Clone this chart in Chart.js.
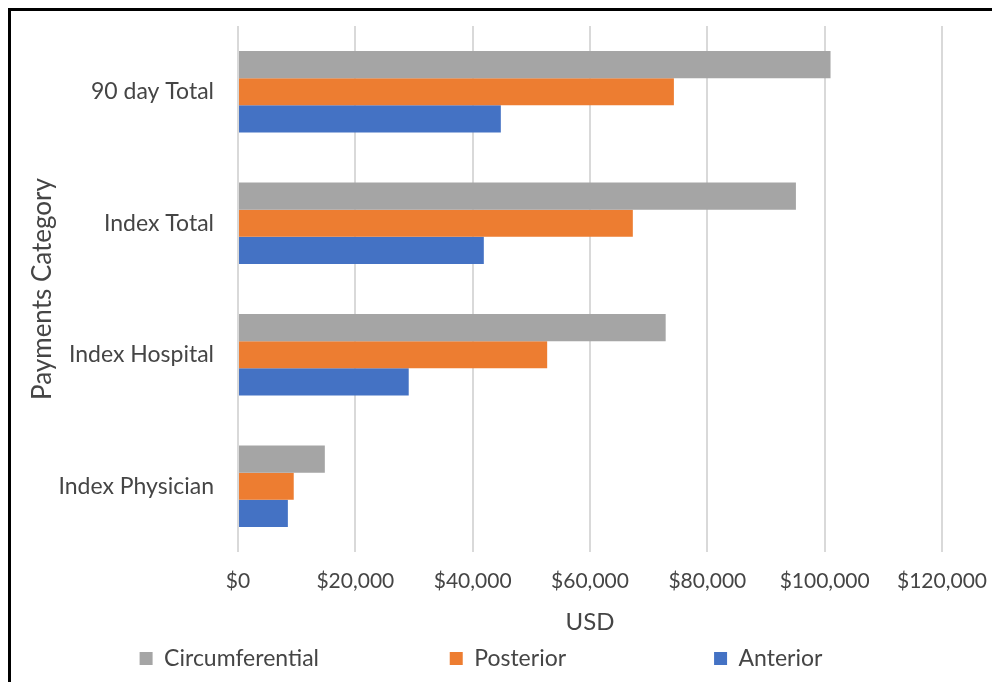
<!DOCTYPE html>
<html>
<head>
<meta charset="utf-8">
<title>Payments Category</title>
<script src="https://cdn.jsdelivr.net/npm/chart.js@4.4.0/dist/chart.umd.min.js"></script>
<style>
    html, body { margin: 0; padding: 0; background: #fff; overflow: hidden; }
    #wrap { position: relative; width: 992px; height: 682px; }
    #frame {
        position: absolute; left: 8px; top: 8px; width: 1000px; height: 700px;
        border-top: 3px solid #000; border-left: 3px solid #000;
    }
    canvas { position: absolute; left: 0; top: 0; }
</style>
</head>
<body>
<div id="wrap">
    <div id="frame"></div>
    <canvas id="paymentsChart" width="992" height="682"></canvas>
</div>
<script>
// Categories (top to bottom) and series values in USD
const categories = ['90 day Total', 'Index Total', 'Index Hospital', 'Index Physician'];
const circumferential = [101000, 95100, 72900, 14800];
const posterior = [74300, 67300, 52700, 9500];
const anterior = [44800, 41900, 29100, 8500];
const xTicks = [0, 20000, 40000, 60000, 80000, 100000, 120000];

(function() {
    'use strict';

    const textColor = '#454545';
    const fontFamily = 'Lato, "Open Sans", sans-serif';
    // em spaces after each legend entry widen the gaps like the Excel legend
    const legendGap = [7, 8, 0];

    const ctx = document.getElementById('paymentsChart');

    new Chart(ctx, {
        type: 'bar',
        data: {
            labels: categories,
            datasets: [
                { label: 'Circumferential', data: circumferential, backgroundColor: '#a5a5a5' },
                { label: 'Posterior', data: posterior, backgroundColor: '#ed7d31' },
                { label: 'Anterior', data: anterior, backgroundColor: '#4472c4' }
            ]
        },
        options: {
            indexAxis: 'y',
            responsive: false,
            animation: false,
            barPercentage: 1,
            categoryPercentage: 0.62,
            layout: {
                padding: { left: 20, top: 26, right: 50, bottom: 2 }
            },
            plugins: {
                legend: {
                    position: 'bottom',
                    labels: {
                        color: textColor,
                        boxWidth: 13,
                        boxHeight: 13,
                        padding: 10,
                        font: { family: fontFamily, size: 23 },
                        generateLabels: function(chart) {
                            const items = Chart.defaults.plugins.legend.labels.generateLabels(chart);
                            items.forEach(function(item, i) {
                                item.text = item.text + '\u2003'.repeat(legendGap[i] || 0);
                                item.lineWidth = 0;
                            });
                            return items;
                        }
                    }
                },
                tooltip: { enabled: false }
            },
            scales: {
                x: {
                    min: 0,
                    max: 120000,
                    afterBuildTicks: function(scale) {
                        scale.ticks = xTicks.map(function(v) { return { value: v }; });
                    },
                    afterFit: function(scale) {
                        scale.height = 85;
                        scale.paddingLeft = 0;
                        scale.paddingRight = 0;
                    },
                    grid: { color: '#d9d9d9', lineWidth: 2, drawTicks: false },
                    border: { display: false },
                    ticks: {
                        color: textColor,
                        padding: 17,
                        maxRotation: 0,
                        font: { family: fontFamily, size: 21 },
                        callback: function(value) {
                            return '$' + value.toLocaleString('en-US');
                        }
                    },
                    title: {
                        display: true,
                        text: 'USD',
                        color: textColor,
                        padding: { top: 10, bottom: 0 },
                        font: { family: fontFamily, size: 24 }
                    }
                },
                y: {
                    afterFit: function(scale) {
                        scale.width = 218;
                        scale.paddingTop = 0;
                        scale.paddingBottom = 0;
                    },
                    grid: { display: false, drawTicks: false },
                    border: { display: false },
                    ticks: {
                        color: textColor,
                        padding: 24,
                        font: { family: fontFamily, size: 23 }
                    },
                    title: {
                        display: true,
                        text: 'Payments Category',
                        color: textColor,
                        padding: { top: 7, bottom: 0 },
                        font: { family: fontFamily, size: 26 }
                    }
                }
            }
        }
    });
})();
</script>
</body>
</html>
